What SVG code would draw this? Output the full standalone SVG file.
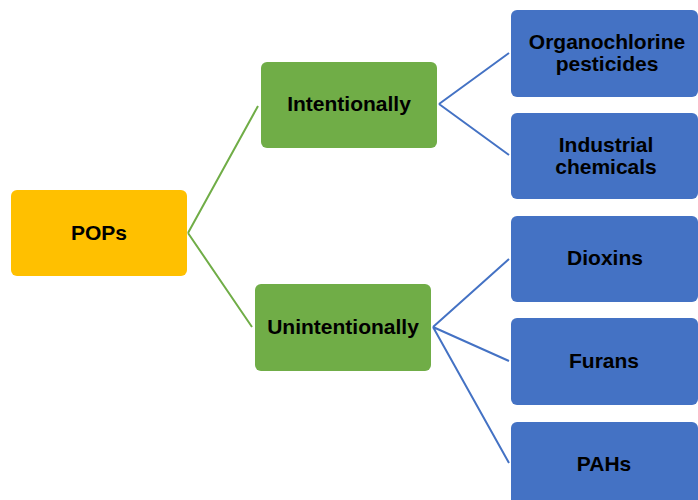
<svg xmlns="http://www.w3.org/2000/svg" width="698" height="500" viewBox="0 0 698 500">
<style>
.t{font-family:"Liberation Sans",Arial,sans-serif;font-weight:bold;font-size:21px;fill:#000;text-anchor:middle}
.y{fill:#FFC000}
.g{fill:#70AD47}
.b{fill:#4472C4}
.cg{stroke:#70AD47;stroke-width:2;fill:none}
.cb{stroke:#4472C4;stroke-width:2;fill:none}
</style>
<rect width="698" height="500" fill="#fff"/>
<g id="connectors">
<path class="cg" d="M188,233 L258,106 M188,233 L252,327"/>
<path class="cb" d="M439,104 L509,53 M439,104 L509,155"/>
<path class="cb" d="M433,327 L509,259 M433,327 L509,361 M433,327 L509,463"/>
</g>
<g id="pops"><rect class="y" x="11" y="190" width="176" height="86" rx="6"/><text class="t" x="99" y="240">POPs</text></g>
<g id="intentionally"><rect class="g" x="261" y="62" width="176" height="86" rx="6"/><text class="t" x="349" y="111">Intentionally</text></g>
<g id="unintentionally"><rect class="g" x="255" y="284" width="176" height="87" rx="6"/><text class="t" x="343" y="334">Unintentionally</text></g>
<g id="organochlorine"><rect class="b" x="511" y="10" width="187" height="87" rx="6"/><text class="t" x="607" y="49">Organochlorine</text><text class="t" x="607" y="71">pesticides</text></g>
<g id="industrial"><rect class="b" x="511" y="113" width="187" height="86" rx="6"/><text class="t" x="606" y="152">Industrial</text><text class="t" x="606" y="174">chemicals</text></g>
<g id="dioxins"><rect class="b" x="511" y="216" width="187" height="86" rx="6"/><text class="t" x="605" y="265">Dioxins</text></g>
<g id="furans"><rect class="b" x="511" y="318" width="187" height="87" rx="6"/><text class="t" x="604" y="368">Furans</text></g>
<g id="pahs"><rect class="b" x="511" y="422" width="187" height="90" rx="6"/><text class="t" x="604" y="471">PAHs</text></g>
</svg>
